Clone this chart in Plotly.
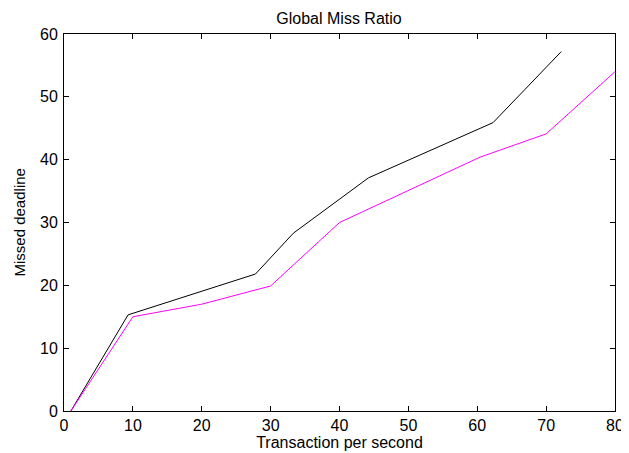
import plotly.graph_objects as go

black_x = [1, 9.3, 27.8, 33.3, 44.2, 62.3, 72.2]
black_y = [0, 15.3, 21.8, 28.3, 37.1, 45.9, 57.2]
mag_x = [1, 10, 20, 30, 40, 50, 60.4, 70, 80]
mag_y = [0, 15, 17, 19.9, 30, 35.1, 40.4, 44.1, 54]

x_ticks = [0, 10, 20, 30, 40, 50, 60, 70, 80]
y_ticks = [0, 10, 20, 30, 40, 50, 60]

font = "Liberation Sans, Arial, sans-serif"

# page body has an 8px margin; figure is sized to fit the window
W, H = 621, 445
L = 56

fig = go.Figure()
fig.add_trace(go.Scatter(x=black_x, y=black_y, mode="lines",
                         line=dict(color="black", width=1), showlegend=False))
fig.add_trace(go.Scatter(x=mag_x, y=mag_y, mode="lines",
                         line=dict(color="#ff00ff", width=1), showlegend=False))

axis_common = dict(showline=True, linecolor="black", linewidth=1, mirror="ticks",
                   ticks="inside", ticklen=5, tickcolor="black", showgrid=False,
                   zeroline=False, automargin=False,
                   tickfont=dict(family=font, size=16, color="black"))

fig.update_layout(
    width=W, height=H,
    margin=dict(l=L, r=14, t=26, b=42),
    paper_bgcolor="white", plot_bgcolor="white",
    title=dict(text="Global Miss Ratio", x=331 / W, xanchor="center",
               y=1 - 10 / H, yanchor="middle",
               font=dict(family=font, size=16, color="black")),
    xaxis=dict(range=[0, 80], tickvals=x_ticks,
               title=dict(text="Transaction per second", standoff=0,
                          font=dict(family=font, size=16, color="black")),
               **axis_common),
    yaxis=dict(range=[0, 60], tickvals=y_ticks, ticklabelstandoff=2,
               **axis_common),
    annotations=[dict(text="Missed deadline", textangle=-90, showarrow=False,
                      xref="paper", yref="paper", x=0, y=0.5,
                      xanchor="center", yanchor="middle", xshift=11 - L,
                      font=dict(family=font, size=15, color="black"))],
)

fig.write_html("out.html")
